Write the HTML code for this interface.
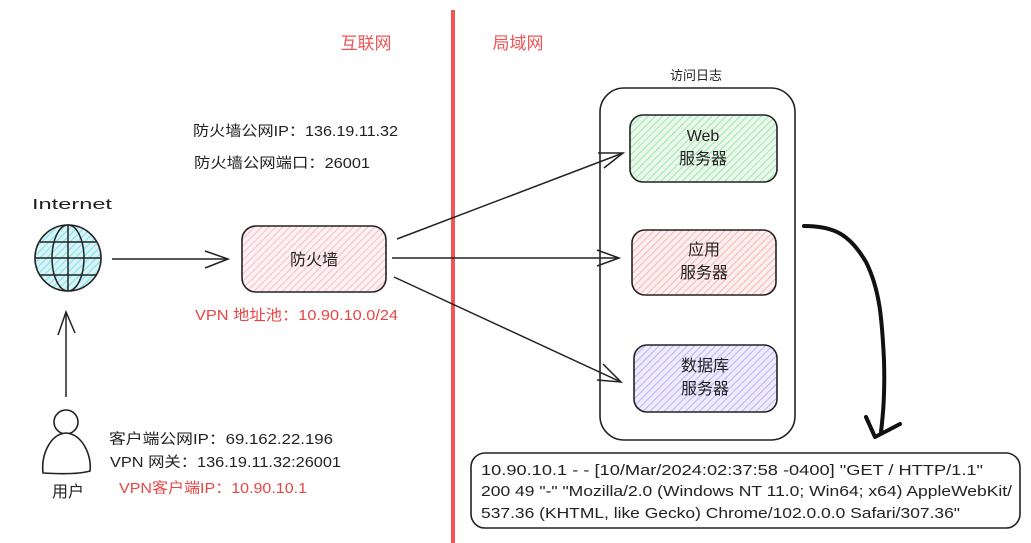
<!DOCTYPE html>
<html><head><meta charset="utf-8"><style>
html,body{margin:0;padding:0;background:#fff;}
svg{display:block;}
text{font-family:"Liberation Sans","Noto Sans CJK SC",sans-serif;}
</style></head><body>
<svg width="1031" height="543" viewBox="0 0 1031 543" xmlns="http://www.w3.org/2000/svg">
<defs>
<pattern id="hg" width="5" height="5" patternUnits="userSpaceOnUse" patternTransform="rotate(45)"><rect width="5" height="5" fill="#eaf9ec"/><line x1="0" y1="0" x2="0" y2="5" stroke="#a6e6b2" stroke-width="2.2"/></pattern>
<pattern id="hr" width="5" height="5" patternUnits="userSpaceOnUse" patternTransform="rotate(45)"><rect width="5" height="5" fill="#fff0f0"/><line x1="0" y1="0" x2="0" y2="5" stroke="#f7b8b8" stroke-width="2.2"/></pattern>
<pattern id="hp" width="5" height="5" patternUnits="userSpaceOnUse" patternTransform="rotate(45)"><rect width="5" height="5" fill="#f0ecff"/><line x1="0" y1="0" x2="0" y2="5" stroke="#c2b4f5" stroke-width="2.2"/></pattern>
<pattern id="hf" width="5" height="5" patternUnits="userSpaceOnUse" patternTransform="rotate(45)"><rect width="5" height="5" fill="#fff2f4"/><line x1="0" y1="0" x2="0" y2="5" stroke="#f7bfc8" stroke-width="2.2"/></pattern>
<pattern id="hc" width="5" height="5" patternUnits="userSpaceOnUse" patternTransform="rotate(45)"><rect width="5" height="5" fill="#d6f5f8"/><line x1="0" y1="0" x2="0" y2="5" stroke="#8fe0ea" stroke-width="2.4"/></pattern>
</defs>

<!-- red divider -->
<line x1="453" y1="10" x2="453" y2="543" stroke="#f05555" stroke-width="4"/>
<text x="366" y="49" font-size="17" fill="#ee5555" text-anchor="middle">互联网</text>
<text x="518" y="49" font-size="17" fill="#ee5555" text-anchor="middle">局域网</text>

<!-- firewall info -->
<text x="193" y="136" font-size="14.5" fill="#222" textLength="205" lengthAdjust="spacingAndGlyphs">防火墙公网IP：136.19.11.32</text>
<text x="194" y="168" font-size="14.5" fill="#222" textLength="176" lengthAdjust="spacingAndGlyphs">防火墙公网端口：26001</text>

<!-- Internet globe -->
<text x="72" y="209" font-size="15" fill="#222" text-anchor="middle" textLength="80" lengthAdjust="spacingAndGlyphs">Internet</text>
<circle cx="68" cy="258" r="33" fill="url(#hc)" stroke="#222" stroke-width="1.6"/>
<ellipse cx="68" cy="258" rx="16" ry="33" fill="none" stroke="#222" stroke-width="1.5"/>
<line x1="68" y1="225" x2="68" y2="291" stroke="#222" stroke-width="1.5"/>
<line x1="35" y1="258" x2="101" y2="258" stroke="#222" stroke-width="1.5"/>
<line x1="40" y1="242" x2="96" y2="242" stroke="#222" stroke-width="1.4"/>
<line x1="40" y1="275" x2="96" y2="275" stroke="#222" stroke-width="1.4"/>

<!-- arrow Internet -> firewall -->
<line x1="112" y1="259" x2="228" y2="259" stroke="#222" stroke-width="1.5"/>
<polyline points="205,251 228,259 205,268" fill="none" stroke="#222" stroke-width="1.5"/>

<!-- firewall -->
<rect x="242" y="226" width="144" height="66" rx="14" fill="url(#hf)" stroke="#222" stroke-width="1.6"/>
<text x="314" y="265" font-size="16" fill="#222" text-anchor="middle">防火墙</text>
<text x="195" y="320" font-size="15" fill="#e84545" textLength="203" lengthAdjust="spacingAndGlyphs">VPN 地址池：10.90.10.0/24</text>

<!-- up arrow user -> internet -->
<line x1="66" y1="312" x2="66" y2="397" stroke="#222" stroke-width="1.5"/>
<polyline points="58,335 66,312 75,333" fill="none" stroke="#222" stroke-width="1.5"/>

<!-- user -->
<circle cx="66" cy="422" r="12" fill="#fff" stroke="#222" stroke-width="1.6"/>
<path d="M43,473 C41,455 50,434 66,433 C82,434 92,455 90,471 C80,474 60,474 43,473 Z" fill="#fff" stroke="#222" stroke-width="1.6"/>
<text x="68" y="497" font-size="16" fill="#222" text-anchor="middle">用户</text>

<!-- client info -->
<text x="109" y="444" font-size="14.5" fill="#222" textLength="224" lengthAdjust="spacingAndGlyphs">客户端公网IP：69.162.22.196</text>
<text x="110" y="467" font-size="14.5" fill="#222" textLength="231" lengthAdjust="spacingAndGlyphs">VPN 网关：136.19.11.32:26001</text>
<text x="119" y="493" font-size="14.5" fill="#e84545" textLength="188" lengthAdjust="spacingAndGlyphs">VPN客户端IP：10.90.10.1</text>

<!-- container -->
<text x="696" y="80" font-size="13" fill="#222" text-anchor="middle">访问日志</text>
<rect x="600" y="88" width="195" height="352" rx="24" fill="none" stroke="#222" stroke-width="1.6"/>

<!-- servers -->
<rect x="630" y="115" width="147" height="67" rx="13" fill="url(#hg)" stroke="#222" stroke-width="1.6"/>
<text x="703" y="141" font-size="16" fill="#222" text-anchor="middle">Web</text>
<text x="703" y="164" font-size="16" fill="#222" text-anchor="middle">服务器</text>

<rect x="632" y="230" width="144" height="65" rx="13" fill="url(#hr)" stroke="#222" stroke-width="1.6"/>
<text x="704" y="255" font-size="16" fill="#222" text-anchor="middle">应用</text>
<text x="704" y="278" font-size="16" fill="#222" text-anchor="middle">服务器</text>

<rect x="634" y="345" width="143" height="67" rx="13" fill="url(#hp)" stroke="#222" stroke-width="1.6"/>
<text x="705" y="371" font-size="16" fill="#222" text-anchor="middle">数据库</text>
<text x="705" y="394" font-size="16" fill="#222" text-anchor="middle">服务器</text>

<!-- arrows firewall -> servers -->
<line x1="397" y1="239" x2="623" y2="153" stroke="#222" stroke-width="1.5"/>
<polyline points="598,153 623,153 604,168" fill="none" stroke="#222" stroke-width="1.5"/>
<line x1="392" y1="258" x2="619" y2="258" stroke="#222" stroke-width="1.6"/>
<polyline points="597,250 619,258 597,266" fill="none" stroke="#222" stroke-width="1.5"/>
<line x1="394" y1="277" x2="621" y2="382" stroke="#222" stroke-width="1.5"/>
<polyline points="603,364 621,382 597,380" fill="none" stroke="#222" stroke-width="1.5"/>

<!-- curved thick arrow -->
<path d="M804,226 C835,226 850,235 866,262 C880,290 882,320 884,360 C885,395 883,415 881,432" fill="none" stroke="#111" stroke-width="4" stroke-linecap="round"/>
<polyline points="866,417 875,437 900,424" fill="none" stroke="#111" stroke-width="4" stroke-linecap="round" stroke-linejoin="round"/>

<!-- log box -->
<rect x="471" y="453" width="549" height="75" rx="14" fill="#fff" stroke="#222" stroke-width="1.6"/>
<text x="481" y="475" font-size="15" fill="#222" textLength="502" lengthAdjust="spacingAndGlyphs">10.90.10.1 - - [10/Mar/2024:02:37:58 -0400] "GET / HTTP/1.1"</text>
<text x="481" y="496" font-size="15" fill="#222" textLength="531" lengthAdjust="spacingAndGlyphs">200 49 "-" "Mozilla/2.0 (Windows NT 11.0; Win64; x64) AppleWebKit/</text>
<text x="481" y="518" font-size="15" fill="#222" textLength="479" lengthAdjust="spacingAndGlyphs">537.36 (KHTML, like Gecko) Chrome/102.0.0.0 Safari/307.36"</text>
</svg>
</body></html>
